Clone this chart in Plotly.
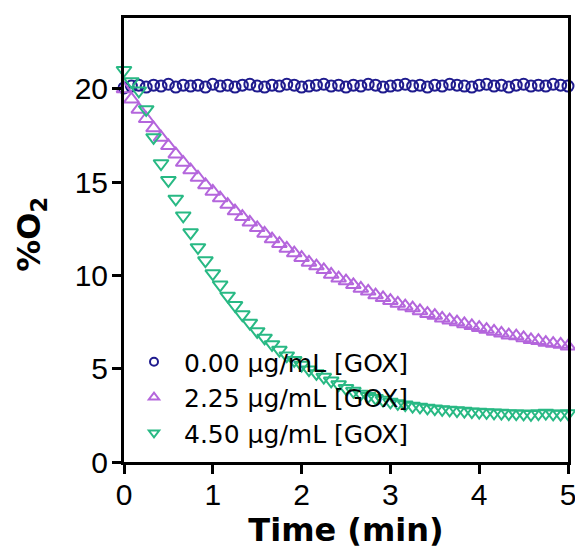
import plotly.graph_objects as go

time_min = [
    0.000, 0.083, 0.167, 0.250, 0.333, 0.417, 0.500, 0.583, 0.667, 0.750,
    0.833, 0.917, 1.000, 1.083, 1.167, 1.250, 1.333, 1.417, 1.500, 1.583,
    1.667, 1.750, 1.833, 1.917, 2.000, 2.083, 2.167, 2.250, 2.333, 2.417,
    2.500, 2.583, 2.667, 2.750, 2.833, 2.917, 3.000, 3.083, 3.167, 3.250,
    3.333, 3.417, 3.500, 3.583, 3.667, 3.750, 3.833, 3.917, 4.000, 4.083,
    4.167, 4.250, 4.333, 4.417, 4.500, 4.583, 4.667, 4.750, 4.833, 4.917,
    5.000,
]

o2_gox_000 = [
    20.05, 20.15, 20.20, 20.10, 20.20, 20.15, 20.25, 20.10, 20.20, 20.15,
    20.20, 20.10, 20.25, 20.15, 20.20, 20.10, 20.20, 20.25, 20.15, 20.10,
    20.20, 20.15, 20.25, 20.20, 20.10, 20.15, 20.20, 20.25, 20.15, 20.20,
    20.10, 20.20, 20.15, 20.25, 20.20, 20.10, 20.15, 20.20, 20.25, 20.15,
    20.20, 20.10, 20.20, 20.15, 20.25, 20.20, 20.15, 20.10, 20.20, 20.25,
    20.15, 20.20, 20.10, 20.20, 20.25, 20.15, 20.20, 20.15, 20.25, 20.20,
    20.15,
]

o2_gox_225 = [
    20.00, 19.45, 18.90, 18.40, 17.90, 17.40, 16.95, 16.50, 16.05, 15.65,
    15.25, 14.85, 14.50, 14.15, 13.80, 13.45, 13.15, 12.85, 12.55, 12.25,
    11.95, 11.70, 11.45, 11.20, 10.95, 10.70, 10.50, 10.30, 10.05, 9.85,
    9.70, 9.50, 9.30, 9.15, 8.95, 8.80, 8.65, 8.50, 8.35, 8.25,
    8.10, 7.95, 7.85, 7.70, 7.60, 7.50, 7.40, 7.30, 7.20, 7.10,
    7.00, 6.90, 6.80, 6.75, 6.65, 6.55, 6.50, 6.40, 6.35, 6.30,
    6.20,
]

o2_gox_450 = [
    21.00, 20.40, 19.90, 18.90, 17.40, 16.00, 15.10, 14.10, 13.20, 12.30,
    11.50, 10.80, 10.10, 9.50, 8.90, 8.40, 7.90, 7.45, 7.00, 6.65,
    6.30, 6.00, 5.70, 5.45, 5.20, 4.95, 4.75, 4.55, 4.35, 4.15,
    3.95, 3.80, 3.65, 3.52, 3.42, 3.32, 3.22, 3.14, 3.07, 3.00,
    2.95, 2.90, 2.86, 2.82, 2.79, 2.76, 2.73, 2.70, 2.68, 2.66,
    2.64, 2.62, 2.60, 2.59, 2.58, 2.56, 2.60, 2.62, 2.58, 2.57,
    2.60,
]

series_names = ["0.00 µg/mL [GOX]", "2.25 µg/mL [GOX]", "4.50 µg/mL [GOX]"]
x_ticks = [0, 1, 2, 3, 4, 5]
y_ticks = [0, 5, 10, 15, 20]

colors = ["#1f1b8e", "#b466dc", "#28b984"]
symbols = ["circle-open", "triangle-up-open", "triangle-down-open"]
sizes = [11, 13, 13]
legend_sizes = [8, 9, 9]
values = [o2_gox_000, o2_gox_225, o2_gox_450]

fig = go.Figure()
for name, yv, c, s, sz in zip(series_names, values, colors, symbols, sizes):
    fig.add_trace(go.Scatter(
        x=time_min, y=yv, mode="markers", name=name, showlegend=False,
        marker=dict(symbol=s, size=sz, color=c, line=dict(color=c, width=2)),
        cliponaxis=False,
    ))
# legend entries with the smaller symbols used in the reference legend
for name, c, s, sz in zip(series_names, colors, symbols, legend_sizes):
    fig.add_trace(go.Scatter(
        x=[None], y=[None], mode="markers", name=name, showlegend=True,
        marker=dict(symbol=s, size=sz, color=c, line=dict(color=c, width=2)),
    ))

font_family = "Liberation Sans, Arial, sans-serif"
title_family = "DejaVu Sans, Liberation Sans, sans-serif"
fig.update_layout(
    width=575, height=548,
    margin=dict(l=116, r=11, t=7, b=94),
    paper_bgcolor="white", plot_bgcolor="white",
    font=dict(family=font_family, color="black"),
    showlegend=True,
    legend=dict(
        x=0.0, y=0.277, xanchor="left", yanchor="top",
        font=dict(size=25, family=title_family, color="black"),
        bgcolor="rgba(0,0,0,0)", itemwidth=50, tracegroupgap=0,
    ),
    xaxis=dict(
        range=[0, 5], tickvals=x_ticks, ticktext=[str(v) for v in x_ticks],
        showgrid=False, zeroline=False, showline=True, mirror=True,
        linecolor="black", linewidth=3,
        ticks="outside", ticklen=9, tickwidth=2.5, tickcolor="black",
        ticklabelstandoff=-5,
        tickfont=dict(size=30, family=font_family),
        title=dict(text="<b>Time (min)</b>", font=dict(size=32, family=title_family), standoff=0),
    ),
    yaxis=dict(
        range=[0, 23.8], tickvals=y_ticks, ticktext=[str(v) for v in y_ticks],
        showgrid=False, zeroline=False, showline=True, mirror=True,
        linecolor="black", linewidth=3,
        ticks="outside", ticklen=9, tickwidth=2.5, tickcolor="black",
        ticklabelstandoff=-2,
        tickfont=dict(size=30, family=font_family),
        title=dict(text="<b>\u00a0%O<sub>2</sub></b>", font=dict(size=32, family=title_family), standoff=25),
    ),
)

fig.write_html("out.html")
